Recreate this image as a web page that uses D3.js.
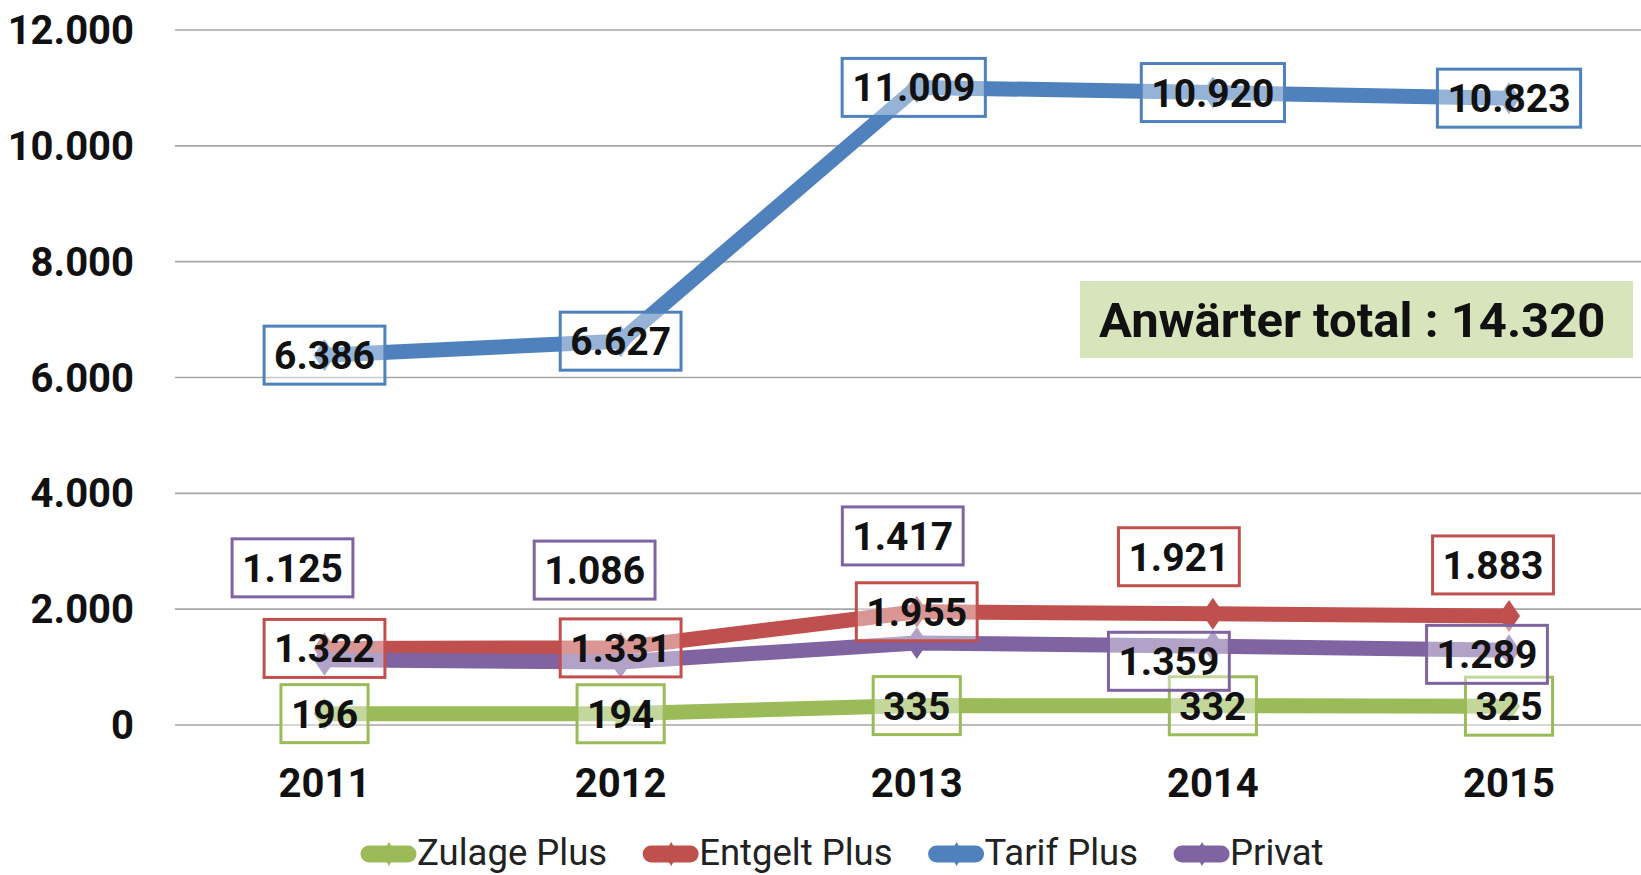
<!DOCTYPE html>
<html>
<head>
<meta charset="utf-8">
<script src="https://cdn.jsdelivr.net/npm/d3@7"></script>
<style>
	body { margin: 0; background: #fff; }
	svg { display: block; font-family: Roboto, "DejaVu Sans", sans-serif; }
</style>
</head>
<body>
<div id="chart-container"></div>
<script>
const years = ["2011", "2012", "2013", "2014", "2015"];
const seriesNames = ["Zulage Plus", "Entgelt Plus", "Tarif Plus", "Privat"];
const zulagePlus = [196, 194, 335, 332, 325];
const entgeltPlus = [1322, 1331, 1955, 1921, 1883];
const tarifPlus = [6386, 6627, 11009, 10920, 10823];
const privat = [1125, 1086, 1417, 1359, 1289];
const yTicks = [0, 2000, 4000, 6000, 8000, 10000, 12000];
const totalLabel = "Anwärter total : 14.320";

const colors = ["#9bbb59", "#c0504d", "#4f81bd", "#8064a2"];
// label nudges (dx, dy) in px, like in the excel chart
const labelNudge = [
	[[0, 0], [0, 0], [0, 0], [0, 0], [0, 0]],
	[[0, 0], [0, 0], [0, 0], [-34, -57], [-16, -51]],
	[[0, 0], [0, 0], [-3, 0], [0, 0], [0, 0]],
	[[-32, -92], [-26, -92], [-14, -107], [-44, 15], [-22, 4]]
];

const width = 1641;
const height = 875;

const locale = d3.formatLocale({ decimal: ",", thousands: ".", grouping: [3], currency: ["", " €"] });
const fmt = locale.format(",d");

const svg = d3
	.select("#chart-container")
	.append("svg")
	.attr("width", width)
	.attr("height", height);

const x = d3.scalePoint().domain(years).range([324.5, 1509]);
const y = d3.scaleLinear().domain([0, 12000]).range([725, 30]);

// grid
svg.append("g")
	.selectAll("line")
	.data(yTicks)
	.join("line")
	.attr("x1", 175)
	.attr("x2", width)
	.attr("y1", (d) => y(d))
	.attr("y2", (d) => y(d))
	.attr("stroke", "#a6a6a6")
	.attr("stroke-width", 1.6);

// y axis labels
svg.append("g")
	.selectAll("text")
	.data(yTicks)
	.join("text")
	.attr("x", 134)
	.attr("y", (d) => y(d) + 14)
	.attr("text-anchor", "end")
	.attr("font-size", 40)
	.attr("font-weight", "bold")
	.attr("fill", "#111")
	.text((d) => fmt(d));

// x axis labels
svg.append("g")
	.selectAll("text")
	.data(years)
	.join("text")
	.attr("x", (d) => x(d))
	.attr("y", 797)
	.attr("text-anchor", "middle")
	.attr("font-size", 40)
	.attr("font-weight", "bold")
	.attr("fill", "#111")
	.text((d) => d);

// total box
const note = svg.append("g");
note.append("rect")
	.attr("x", 1080)
	.attr("y", 281)
	.attr("width", 553)
	.attr("height", 77)
	.attr("fill", "#d8e4bc");
note.append("text")
	.attr("x", 1099)
	.attr("y", 337)
	.attr("font-size", 49)
	.attr("font-weight", "bold")
	.attr("fill", "#111")
	.text(totalLabel);

const values = [zulagePlus, entgeltPlus, tarifPlus, privat];
const series = seriesNames.map((name, i) => ({
	name,
	color: colors[i],
	points: years.map((yr, j) => ({ year: yr, value: values[i][j], nudge: labelNudge[i][j] }))
}));

const line = d3
	.line()
	.x((d) => x(d.year))
	.y((d) => y(d.value));

const diamond = (w, h) => `M0,${-h}L${w},0L0,${h}L${-w},0Z`;

// lines and markers
series.forEach((s) => {
	const g = svg.append("g");
	g.append("path")
		.datum(s.points)
		.attr("fill", "none")
		.attr("stroke", s.color)
		.attr("stroke-width", 15)
		.attr("stroke-linejoin", "round")
		.attr("stroke-linecap", "round")
		.attr("d", line);
	g.selectAll("path.dot")
		.data(s.points)
		.join("path")
		.attr("class", "dot")
		.attr("transform", (d) => `translate(${x(d.year)},${y(d.value)})`)
		.attr("d", diamond(11, 16))
		.attr("fill", s.color);
});

// data labels
series.forEach((s) => {
	const g = svg.append("g");
	const lab = g.selectAll("g")
		.data(s.points)
		.join("g")
		.attr("transform", (d) => `translate(${x(d.year) + d.nudge[0]},${y(d.value) + d.nudge[1]})`);
	const rect = lab.append("rect")
		.attr("fill", "#fff")
		.attr("fill-opacity", 0.4)
		.attr("stroke", s.color)
		.attr("stroke-width", 3);
	const txt = lab.append("text")
		.attr("y", 14)
		.attr("text-anchor", "middle")
		.attr("font-size", 39)
		.attr("font-weight", "bold")
		.attr("fill", "#111")
		.text((d) => fmt(d.value));
	rect.each(function (d, i) {
		const w = txt.nodes()[i].getComputedTextLength() + 20;
		d3.select(this)
			.attr("x", -w / 2)
			.attr("y", -29)
			.attr("width", w)
			.attr("height", 58);
	});
});

// legend
const legend = svg.append("g").attr("transform", "translate(0,854)");
let lx = 361;
series.forEach((s) => {
	const item = legend.append("g").attr("transform", `translate(${lx},0)`);
	item.append("line")
		.attr("x1", 8)
		.attr("x2", 47)
		.attr("stroke", s.color)
		.attr("stroke-width", 17)
		.attr("stroke-linecap", "round");
	item.append("path")
		.attr("transform", "translate(28,0)")
		.attr("d", diamond(7, 12))
		.attr("fill", s.color);
	const t = item.append("text")
		.attr("x", 56)
		.attr("y", 11)
		.attr("font-size", 36.5)
		.attr("fill", "#222")
		.text(s.name);
	lx += 56 + t.node().getComputedTextLength() + 36;
});
</script>
</body>
</html>
